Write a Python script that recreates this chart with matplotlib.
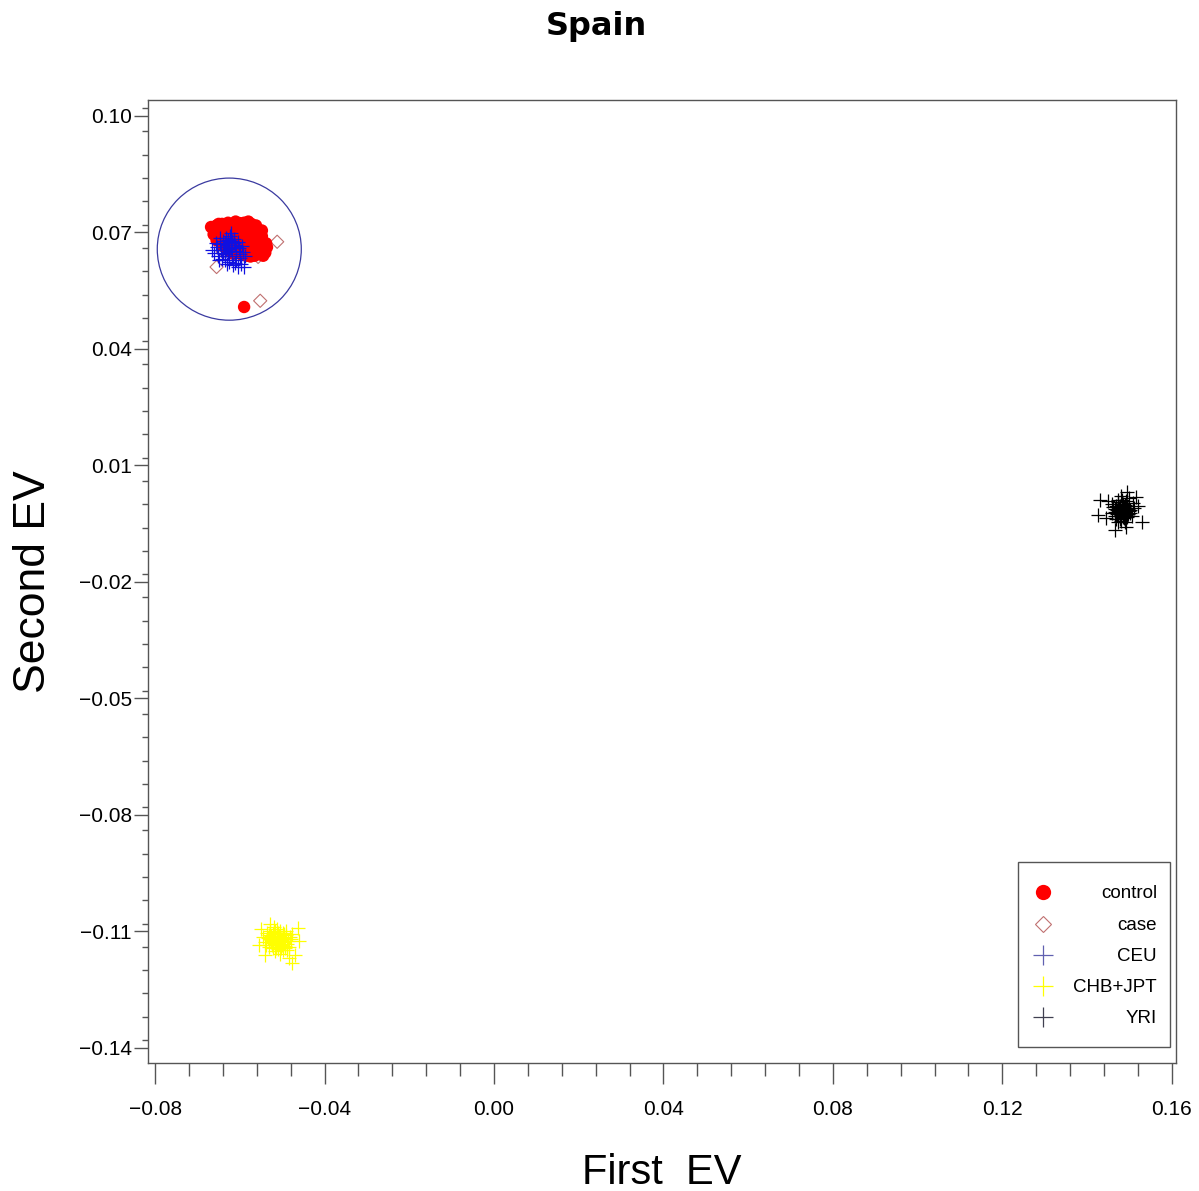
import matplotlib.pyplot as plt
from matplotlib.patches import Ellipse, Rectangle
from matplotlib.ticker import MultipleLocator

plt.rcParams['font.family'] = ['Liberation Sans', 'DejaVu Sans']

# control (red dots)
control_x = [-0.0665, -0.0660, -0.0655, -0.0650, -0.0648, -0.0642, -0.0640, -0.0636, -0.0632, -0.0628,
             -0.0625, -0.0620, -0.0618, -0.0615, -0.0612, -0.0608, -0.0605, -0.0603, -0.0600, -0.0598,
             -0.0595, -0.0592, -0.0590, -0.0587, -0.0585, -0.0582, -0.0580, -0.0578, -0.0575, -0.0572,
             -0.0570, -0.0567, -0.0565, -0.0562, -0.0560, -0.0558, -0.0555, -0.0552, -0.0550, -0.0548,
             -0.0546, -0.0543, -0.0540, -0.0538, -0.0545, -0.0556, -0.0568, -0.0578, -0.0590, -0.0600,
             -0.0610, -0.0622, -0.0632, -0.0645, -0.0655, -0.0662, -0.0640, -0.0628, -0.0615, -0.0605,
             -0.0595, -0.0585, -0.0575, -0.0565, -0.0548, -0.0560, -0.0573, -0.0590, -0.0610, -0.0635,
             -0.0650, -0.0668, -0.0536, -0.0590]
control_y = [0.0712, 0.0705, 0.0718, 0.0700, 0.0712, 0.0722, 0.0695, 0.0708, 0.0716, 0.0725,
             0.0700, 0.0712, 0.0690, 0.0720, 0.0703, 0.0685, 0.0715, 0.0695, 0.0724, 0.0706,
             0.0680, 0.0712, 0.0692, 0.0670, 0.0720, 0.0700, 0.0728, 0.0684, 0.0712, 0.0660,
             0.0695, 0.0705, 0.0675, 0.0718, 0.0650, 0.0688, 0.0700, 0.0668, 0.0645, 0.0690,
             0.0678, 0.0660, 0.0648, 0.0672, 0.0640, 0.0655, 0.0648, 0.0655, 0.0662, 0.0670,
             0.0660, 0.0675, 0.0685, 0.0690, 0.0680, 0.0695, 0.0665, 0.0655, 0.0645, 0.0650,
             0.0642, 0.0640, 0.0638, 0.0640, 0.0705, 0.0710, 0.0722, 0.0725, 0.0728, 0.0720,
             0.0722, 0.0714, 0.0662, 0.0508]

# case (open diamonds)
case_x = [-0.0512, -0.0552, -0.0655, -0.0557, -0.0600, -0.0620, -0.0580, -0.0640]
case_y = [0.0676, 0.0524, 0.0611, 0.0637, 0.0680, 0.0700, 0.0690, 0.0650]

# CEU (blue plus)
ceu_x = [-0.0665, -0.0660, -0.0655, -0.0652, -0.0648, -0.0645, -0.0642, -0.0640, -0.0638, -0.0635,
         -0.0632, -0.0630, -0.0628, -0.0626, -0.0624, -0.0622, -0.0620, -0.0618, -0.0616, -0.0614,
         -0.0612, -0.0610, -0.0608, -0.0605, -0.0602, -0.0600, -0.0598, -0.0595, -0.0592, -0.0590,
         -0.0588, -0.0635, -0.0628, -0.0620, -0.0625, -0.0615, -0.0632, -0.0640, -0.0610, -0.0618,
         -0.0622, -0.0646, -0.0604, -0.0612, -0.0636, -0.0650, -0.0657, -0.0626, -0.0600, -0.0630]
ceu_y = [0.0655, 0.0648, 0.0662, 0.0640, 0.0670, 0.0655, 0.0632, 0.0678, 0.0662, 0.0645,
         0.0685, 0.0668, 0.0650, 0.0625, 0.0690, 0.0675, 0.0660, 0.0640, 0.0615, 0.0682,
         0.0668, 0.0652, 0.0630, 0.0675, 0.0660, 0.0645, 0.0620, 0.0665, 0.0650, 0.0612,
         0.0640, 0.0672, 0.0680, 0.0668, 0.0658, 0.0672, 0.0655, 0.0648, 0.0662, 0.0678,
         0.0698, 0.0685, 0.0612, 0.0622, 0.0628, 0.0628, 0.0672, 0.0640, 0.0635, 0.0618]

# CHB+JPT (yellow plus)
chb_x = [-0.0510, -0.0520, -0.0500, -0.0530, -0.0490, -0.0515, -0.0505, -0.0525, -0.0495, -0.0535,
         -0.0485, -0.0512, -0.0518, -0.0498, -0.0528, -0.0540, -0.0480, -0.0508, -0.0522, -0.0503,
         -0.0492, -0.0532, -0.0515, -0.0488, -0.0545, -0.0506, -0.0476, -0.0520, -0.0463, -0.0477,
         -0.0550, -0.0470, -0.0540, -0.0528, -0.0485, -0.0555, -0.0460,
         -0.0513, -0.0507, -0.0517, -0.0502, -0.0523, -0.0497, -0.0511, -0.0527, -0.0493, -0.0519,
         -0.0509, -0.0501, -0.0524, -0.0514, -0.0496, -0.0533, -0.0487, -0.0516, -0.0504, -0.0538,
         -0.0482, -0.0521, -0.0499, -0.0511, -0.0526, -0.0494, -0.0507, -0.0531, -0.0489, -0.0518]
chb_y = [-0.1126, -0.1115, -0.1135, -0.1120, -0.1110, -0.1140, -0.1100, -0.1135, -0.1125, -0.1105,
         -0.1140, -0.1095, -0.1150, -0.1148, -0.1098, -0.1128, -0.1120, -0.1118, -0.1108, -0.1142,
         -0.1100, -0.1140, -0.1130, -0.1132, -0.1115, -0.1158, -0.1108, -0.1088, -0.1091, -0.1181,
         -0.1095, -0.1160, -0.1160, -0.1080, -0.1168, -0.1135, -0.1125,
         -0.1112, -0.1122, -0.1133, -0.1128, -0.1124, -0.1117, -0.1105, -0.1112, -0.1138, -0.1101,
         -0.1131, -0.1119, -0.1129, -0.1144, -0.1107, -0.1116, -0.1126, -0.1121, -0.1137, -0.1134,
         -0.1114, -0.1142, -0.1104, -0.1146, -0.1123, -0.1143, -0.1113, -0.1110, -0.1147, -0.1098]

# YRI (black plus)
yri_x = [0.1482, 0.1475, 0.1490, 0.1470, 0.1495, 0.1485, 0.1478, 0.1465, 0.1500, 0.1488,
         0.1472, 0.1492, 0.1460, 0.1505, 0.1480, 0.1468, 0.1498, 0.1483, 0.1510, 0.1458,
         0.1476, 0.1487, 0.1493, 0.1479, 0.1470, 0.1502, 0.1484, 0.1466, 0.1496, 0.1474,
         0.1490, 0.1462, 0.1508, 0.1481, 0.1473, 0.1425, 0.1430, 0.1529, 0.1494, 0.1466,
         0.1445, 0.1520, 0.1515, 0.1450, 0.1492,
         0.1486, 0.1477, 0.1491, 0.1481, 0.1469, 0.1497, 0.1484, 0.1474, 0.1489, 0.1479,
         0.1501, 0.1467, 0.1486, 0.1494, 0.1477]
yri_y = [-0.0015, -0.0010, -0.0020, -0.0025, -0.0005, 0.0000, -0.0030, -0.0012, -0.0018, -0.0035,
         0.0005, 0.0008, -0.0022, -0.0030, -0.0042, -0.0038, 0.0015, 0.0012, -0.0010, 0.0000,
         -0.0018, -0.0008, -0.0028, -0.0005, -0.0015, -0.0022, -0.0024, -0.0030, -0.0012, 0.0010,
         -0.0045, -0.0008, 0.0002, 0.0020, -0.0045, -0.0028, 0.0011, -0.0046, 0.0032, -0.0066,
         -0.0035, -0.0005, 0.0018, 0.0008, -0.0058,
         -0.0019, -0.0021, -0.0011, -0.0027, -0.0004, -0.0025, -0.0032, -0.0016, -0.0002, -0.0038,
         -0.0014, -0.0020, -0.0009, -0.0034, -0.0026]

labels = ["control", "case", "CEU", "CHB+JPT", "YRI"]

fig = plt.figure(figsize=(11.99, 11.91), dpi=100)
ax = fig.add_axes([0.1234, 0.1075, 0.8574, 0.8085])

ax.scatter(case_x, case_y, marker='D', s=45, facecolors='none', edgecolors='#c07070', linewidths=0.8, zorder=2)
ax.scatter(control_x, control_y, marker='o', s=80, color='#ff0000', edgecolors='none', zorder=3)
ax.scatter(ceu_x, ceu_y, marker='+', s=110, color='#1010e0', linewidths=0.9, zorder=4)
ax.scatter(chb_x, chb_y, marker='+', s=110, color='#ffff00', linewidths=0.9, zorder=4)
ax.scatter(yri_x, yri_y, marker='+', s=110, color='black', linewidths=0.9, zorder=4)

ax.add_patch(Ellipse((-0.0625, 0.0657), 0.034, 0.0366, fill=False, edgecolor='#3a3aa0', lw=0.9, zorder=5))

ax.set_xlim(-0.0817, 0.161)
ax.set_ylim(-0.1439, 0.1041)
ax.xaxis.set_minor_locator(MultipleLocator(0.008))
ax.yaxis.set_minor_locator(MultipleLocator(0.006))
ax.set_xticks([-0.08, -0.04, 0.0, 0.04, 0.08, 0.12, 0.16])
ax.set_xticklabels(["\u22120.08", "\u22120.04", "0.00", "0.04", "0.08", "0.12", "0.16"])
ax.set_yticks([0.10, 0.07, 0.04, 0.01, -0.02, -0.05, -0.08, -0.11, -0.14])
ax.set_yticklabels(["0.10", "0.07", "0.04", "0.01", "\u22120.02", "\u22120.05", "\u22120.08", "\u22120.11", "\u22120.14"])

ax.tick_params(axis='x', which='major', length=15, width=1, color='#555555', labelsize=15, pad=12)
ax.tick_params(axis='x', which='minor', length=9, width=1, color='#555555')
ax.tick_params(axis='y', which='major', length=10, width=1, color='#555555', labelsize=15, pad=1.5)
ax.tick_params(axis='y', which='minor', length=4, width=1, color='#555555')
for sp in ax.spines.values():
    sp.set_color('#555555')
    sp.set_linewidth(1)

ax.set_xlabel("First  EV", fontsize=30, labelpad=24)
ax.set_ylabel("Second EV", fontsize=32, labelpad=18)
fig.text(0.497, 1 - 27 / 1191, "Spain", ha='center', va='center', fontsize=23,
         fontweight='bold', family='DejaVu Sans')

# legend box drawn by hand so labels sit right-aligned
ax.add_patch(Rectangle((0.8463, 0.0166), 0.1479, 0.1921, transform=ax.transAxes,
                       fill=True, facecolor='white', edgecolor='#555555', lw=1, zorder=6))
rows = [0.1776, 0.1443, 0.1121, 0.0800, 0.0478]
styles = [dict(marker='o', ms=11, color='#ff0000', mec='none'),
          dict(marker='D', ms=8, mfc='none', mec='#c07070', mew=0.8),
          dict(marker='+', ms=14, color='#6060b0', mew=0.9),
          dict(marker='+', ms=14, color='#ffff00', mew=0.9),
          dict(marker='+', ms=14, color='#404050', mew=0.9)]
for lab, ry, st in zip(labels, rows, styles):
    ax.plot([0.8706], [ry], transform=ax.transAxes, ls='none', zorder=7, clip_on=False, **st)
    ax.text(0.9815, ry - 0.002, lab, transform=ax.transAxes, ha='right', va='center', fontsize=13.5, zorder=7)

fig.savefig("out.png", dpi=100)
